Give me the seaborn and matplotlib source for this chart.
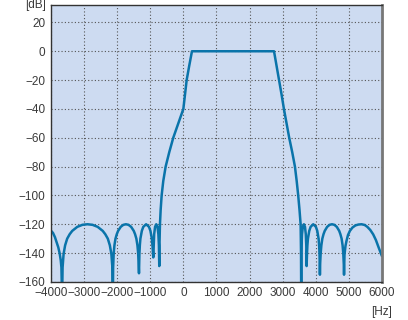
import matplotlib
matplotlib.use("Agg")
import matplotlib.pyplot as plt
import seaborn as sns
import pandas as pd

freq_hz = [
    -4000, -3940, -3880, -3829, -3780, -3740, -3705, -3685, -3665,
    -3650, -3619, -3573, -3511, -3435, -3358, -3205, -3051, -2897, -2744, -2590, -2437, -2360,
    -2283, -2222, -2176, -2145, -2130,
    -2122, -2106, -2083, -2051, -2012, -1972, -1893, -1814, -1736, -1657, -1578, -1499, -1459,
    -1420, -1388, -1365, -1341,
    -1328, -1315, -1298, -1255, -1211, -1125, -1039, -995, -952, -931, -909,
    -898, -882, -855, -818, -782, -755, -739, -728,
    -720, -707, -686, -656, -607, -535, -426, -305, -154, 0, 50, 100, 178, 260,
    2740, 2817, 2897, 2968, 3039, 3119, 3199, 3290, 3372, 3425, 3471, 3510, 3544, 3556, 3562,
    3567, 3572, 3586, 3611, 3643, 3676, 3700, 3715, 3725,
    3737, 3749, 3765, 3805, 3846, 3926, 4006, 4047, 4087, 4103, 4115, 4127,
    4135, 4149, 4171, 4200, 4236, 4273, 4346, 4419, 4492, 4564, 4637, 4710, 4746, 4783, 4812,
    4834, 4849, 4856,
    4870, 4900, 4930, 4975, 5033, 5110, 5200, 5290, 5385, 5480, 5560, 5650, 5737, 5820, 5900,
    5960, 6000,
]
level_db = [
    -124.5, -126, -129, -132.7, -136, -140, -145, -150, -172,
    -150, -140.5, -134.6, -130, -126.9, -124.6, -121.8, -120.4, -120, -120.4, -121.8, -124.6, -126.9,
    -130, -134.6, -140.5, -150, -172,
    -150, -140.5, -134.6, -130, -126.9, -124.6, -121.8, -120.4, -120, -120.4, -121.8, -124.6, -126.9,
    -130, -134.6, -140.5, -154,
    -140.5, -134.6, -130, -124.6, -121.8, -120, -121.8, -124.6, -130, -135.5, -143,
    -136, -126.9, -121.8, -120, -121.8, -126.9, -134.6, -149,
    -133, -120, -110, -100, -90, -80, -70, -60, -50, -40, -30, -20, -10, 0,
    0, -10, -20, -30, -40, -50, -60, -70, -80, -90, -100, -110, -120, -140, -172,
    -140, -134.6, -126.9, -121.8, -120, -121.8, -126.9, -134.6, -149,
    -140.5, -134.6, -130, -124.6, -121.8, -120, -121.8, -124.6, -130, -134.6, -140.5, -155,
    -147, -140.5, -134.6, -130, -126.9, -124.6, -121.8, -120.4, -120, -120.4, -121.8, -124.6,
    -126.9, -130, -134.6,
    -140.5, -148, -155,
    -141, -135, -131.6, -127.5, -124.6, -122.3, -120.8, -120.2, -120, -120.5, -121.8, -124, -127,
    -131, -136,
    -139.5, -142,
]

x_ticks = [-4000, -3000, -2000, -1000, 0, 1000, 2000, 3000, 4000, 5000, 6000]
y_ticks = [-160, -140, -120, -100, -80, -60, -40, -20, 0, 20]

df = pd.DataFrame({"f": freq_hz, "db": level_db})

sns.set_theme(style="white")
plt.rcParams["font.family"] = ["Liberation Sans Narrow", "Liberation Sans", "DejaVu Sans"]

text_color = "#3a3a3a"
fig = plt.figure(figsize=(4.08, 3.2), dpi=100)
ax = fig.add_axes([0.125, 0.119, 0.811, 0.865])
ax.set_facecolor("#cddbf1")

sns.lineplot(data=df, x="f", y="db", ax=ax, color="#0a74aa", linewidth=1.8,
             estimator=None, sort=False)

ax.set_xlim(-4000, 6000)
ax.set_ylim(-160, 32)
ax.set_xticks(x_ticks)
ax.set_yticks(y_ticks)
ax.set_xticklabels([f"{v}".replace("-", "\u2212") for v in x_ticks])
ax.set_yticklabels([f"{v}".replace("-", "\u2212") for v in y_ticks])
ax.tick_params(axis="both", length=0, pad=4, labelsize=8.5, colors=text_color)
ax.grid(True, linestyle=(0, (1, 2)), color="#555555", linewidth=0.8)
ax.set_xlabel("")
ax.set_ylabel("")

for side in ["left", "bottom", "top"]:
    ax.spines[side].set_color("#333333")
    ax.spines[side].set_linewidth(1.0)
ax.spines["right"].set_color("#777777")
ax.spines["right"].set_linewidth(2.0)

fig.text(0.113, 0.984, "[dB]", ha="right", va="center", fontsize=8.5, color=text_color)
fig.text(0.935, 0.025, "[Hz]", ha="center", va="center", fontsize=8.5, color=text_color)

fig.savefig("out.png", dpi=100)
